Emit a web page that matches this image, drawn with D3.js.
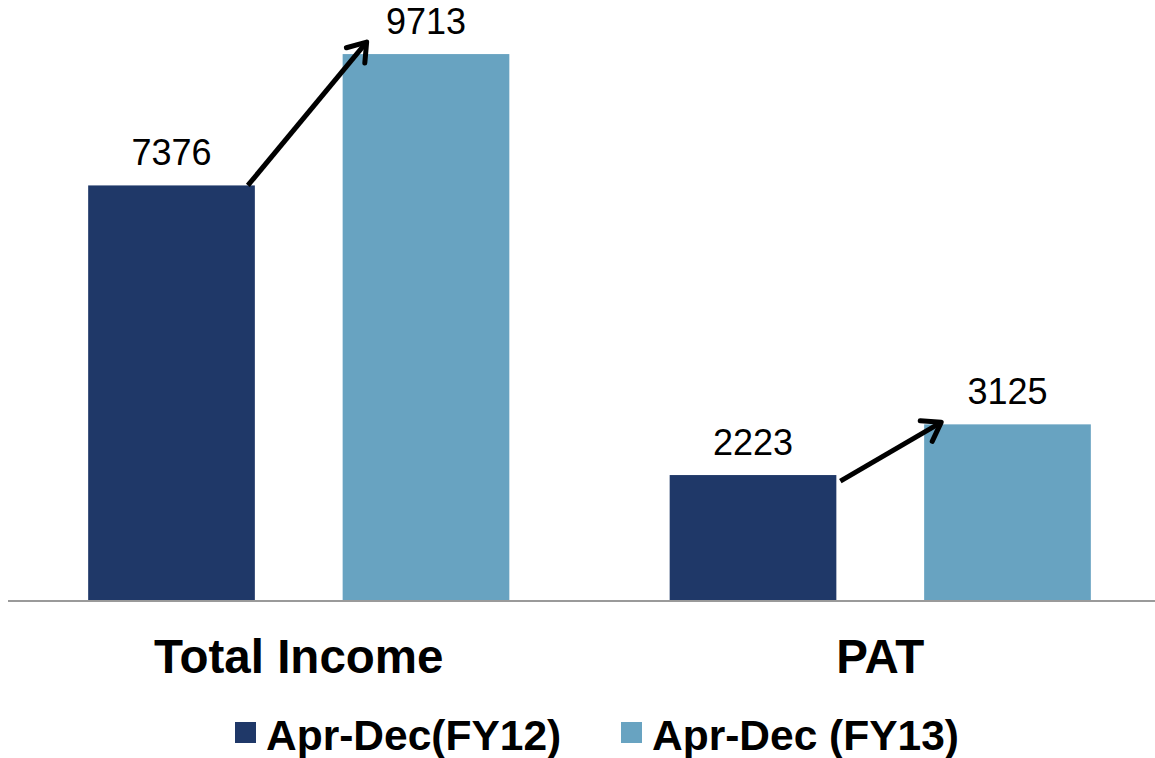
<!DOCTYPE html>
<html>
<head>
<meta charset="utf-8">
<script src="https://cdn.jsdelivr.net/npm/d3@7"></script>
<style>
    html, body { margin: 0; padding: 0; background: #fff; }
    svg { display: block; font-family: "Liberation Sans", Arial, sans-serif; }
</style>
</head>
<body>
<svg id="chart" width="1155" height="758"></svg>
<script>
// Chart data
const categories = ['Total Income', 'PAT'];
const seriesNames = ['Apr-Dec(FY12)', 'Apr-Dec (FY13)'];
const fy12Values = [7376, 2223];
const fy13Values = [9713, 3125];
const seriesColors = ['#1f3868', '#68a3c1'];

const width = 1155;
const height = 758;
const baseY = 600;

const svg = d3.select('#chart');

// Scales
const x0 = d3.scaleBand()
    .domain(categories)
    .range([8, 1171])
    .padding(0);

const x1 = d3.scaleBand()
    .domain(seriesNames)
    .range([0, x0.bandwidth()])
    .paddingInner(0.345)
    .paddingOuter(0.315);

const y = d3.scaleLinear()
    .domain([0, 10675])
    .range([baseY, 0]);

const rows = categories.map((c, i) => ({
    category: c,
    values: [fy12Values[i], fy13Values[i]]
}));

// Bars
const groups = svg.append('g').attr('class', 'bars')
    .selectAll('g')
    .data(rows)
    .join('g')
    .attr('transform', d => `translate(${x0(d.category)},0)`);

groups.selectAll('rect')
    .data(d => d.values.map((v, i) => ({ series: seriesNames[i], value: v, idx: i })))
    .join('rect')
    .attr('x', d => x1(d.series))
    .attr('y', d => y(d.value))
    .attr('width', x1.bandwidth())
    .attr('height', d => baseY - y(d.value))
    .attr('fill', d => seriesColors[d.idx]);

// Value labels
groups.selectAll('text.value')
    .data(d => d.values.map((v, i) => ({ series: seriesNames[i], value: v })))
    .join('text')
    .attr('class', 'value')
    .attr('x', d => x1(d.series) + x1.bandwidth() / 2)
    .attr('y', d => y(d.value) - 20)
    .attr('text-anchor', 'middle')
    .attr('font-size', 36)
    .attr('fill', '#000')
    .text(d => d.value);

// Baseline axis
svg.append('line')
    .attr('x1', 8)
    .attr('x2', width)
    .attr('y1', baseY + 1)
    .attr('y2', baseY + 1)
    .attr('stroke', '#9a9a9a')
    .attr('stroke-width', 2);

// Category labels
svg.append('g').selectAll('text')
    .data(categories)
    .join('text')
    .attr('x', d => x0(d) + x0.bandwidth() / 2)
    .attr('y', 673)
    .attr('text-anchor', 'middle')
    .attr('font-size', 47.5)
    .attr('font-weight', 'bold')
    .attr('fill', '#000')
    .text(d => d);

// Growth arrows (start/end offsets relative to the bar corners)
const arrowOffsets = [
    { sx: -7, sy: 0, ex: 24, ey: -12 },
    { sx: 4, sy: 6, ex: 17, ey: -2 }
];

const arrows = svg.append('g').attr('class', 'arrows');
rows.forEach((r, i) => {
    const o = arrowOffsets[i];
    const sx = x0(r.category) + x1(seriesNames[0]) + x1.bandwidth() + o.sx;
    const sy = y(r.values[0]) + o.sy;
    const ex = x0(r.category) + x1(seriesNames[1]) + o.ex;
    const ey = y(r.values[1]) + o.ey;
    const ang = Math.atan2(ey - sy, ex - sx);
    const head = 21;
    const spread = Math.PI / 5.2;
    const h1 = [ex - head * Math.cos(ang - spread), ey - head * Math.sin(ang - spread)];
    const h2 = [ex - head * Math.cos(ang + spread), ey - head * Math.sin(ang + spread)];

    arrows.append('line')
        .attr('x1', sx).attr('y1', sy)
        .attr('x2', ex - 3 * Math.cos(ang)).attr('y2', ey - 3 * Math.sin(ang))
        .attr('stroke', '#000')
        .attr('stroke-width', 5);

    arrows.append('path')
        .attr('d', `M${h1[0]},${h1[1]}L${ex},${ey}L${h2[0]},${h2[1]}`)
        .attr('fill', 'none')
        .attr('stroke', '#000')
        .attr('stroke-width', 5)
        .attr('stroke-linecap', 'round')
        .attr('stroke-linejoin', 'round');
});

// Legend
const legendItems = [
    { name: seriesNames[0], color: seriesColors[0], x: 235 },
    { name: seriesNames[1], color: seriesColors[1], x: 621 }
];

const legend = svg.append('g').attr('class', 'legend');
legendItems.forEach(item => {
    legend.append('rect')
        .attr('x', item.x)
        .attr('y', 722)
        .attr('width', 21)
        .attr('height', 21)
        .attr('fill', item.color);
    legend.append('text')
        .attr('x', item.x + 31)
        .attr('y', 750)
        .attr('font-size', 42.5)
        .attr('font-weight', 'bold')
        .attr('fill', '#000')
        .text(item.name);
});
</script>
</body>
</html>
